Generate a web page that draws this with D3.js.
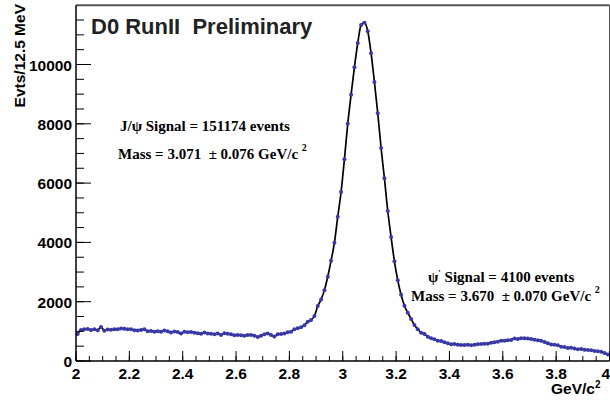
<!DOCTYPE html>
<html>
<head>
<meta charset="utf-8">
<script src="https://cdn.jsdelivr.net/npm/d3@7"></script>
<style>
html,body{margin:0;padding:0;background:#fff;}
svg{display:block;}
text{white-space:pre;}
</style>
</head>
<body>
<svg id="chart" width="610" height="403"></svg>
<script>
// ---- data ----
const binLow = 2.0;
const binWidth = 0.0125;
const counts = [
 910,1045,1068,1079,1045,1068,1040,1150,1023,1060,
 1050,1070,1068,1100,1090,1075,1070,1035,1030,1045,
 1075,1000,1010,990,1005,985,1030,1000,960,995,
 980,930,985,970,975,955,940,920,965,930,
 920,900,930,880,935,915,900,870,880,870,
 850,877,877,853,810,853,901,931,877,830,
 901,911,931,968,988,1069,1103,1137,1204,1325,
 1383,1518,1855,2070,2390,2843,3383,3990,4867,5700,
 6803,8003,8981,9906,10725,11332,11410,11120,10378,9410,
 8354,7184,6160,5059,4182,3362,2721,2236,1865,1629,
 1420,1214,1068,954,911,820,765,732,685,675,
 631,597,563,573,551,540,540,551,528,551,
 563,573,585,585,618,631,651,685,685,697,
 708,760,745,770,765,755,740,720,700,680,
 640,600,560,545,530,480,470,440,450,420,
 400,405,380,370,360,340,330,310,270,220
];
const xTicks = [2, 2.2, 2.4, 2.6, 2.8, 3, 3.2, 3.4, 3.6, 3.8, 4];
const xTickLabels = ["2","2.2","2.4","2.6","2.8","3","3.2","3.4","3.6","3.8","4"];
const yTicks = [0, 2000, 4000, 6000, 8000, 10000];
const yTickLabels = ["0","2000","4000","6000","8000","10000"];
const title = "D0 RunII  Preliminary";
const yTitle = "Evts/12.5 MeV";
const xTitle = "GeV/c";

const points = counts.map((c, i) => ({x: binLow + (i + 0.5) * binWidth, y: c}));

// ---- layout ----
const svg = d3.select("#chart");
const L = 76, R = 609.5, T = 5.2, B = 361;
const x = d3.scaleLinear().domain([2, 4]).range([L, R]);
const y = d3.scaleLinear().domain([0, 12000]).range([B, T]);
const sans = "Liberation Sans, Arial, sans-serif";

// frame top / right
svg.append("line").attr("x1", L).attr("x2", R).attr("y1", T).attr("y2", T)
  .attr("stroke", "#555").attr("stroke-width", 2);
svg.append("line").attr("x1", R).attr("x2", R).attr("y1", T).attr("y2", B)
  .attr("stroke", "#555").attr("stroke-width", 1);

// fit / connecting line
const line = d3.line().x(d => x(d.x)).y(d => y(d.y)).curve(d3.curveMonotoneX);
svg.append("path").datum(points).attr("d", line)
  .attr("fill", "none").attr("stroke", "#000").attr("stroke-width", 1.7);

// markers
svg.append("g").selectAll("circle").data(points).join("circle")
  .attr("cx", d => x(d.x)).attr("cy", d => y(d.y)).attr("r", 2)
  .attr("fill", "#3838a8");

// x axis
const xMinor = d3.range(2, 4.0001, 0.05);
svg.append("g").selectAll("line").data(xMinor).join("line")
  .attr("x1", d => x(d)).attr("x2", d => x(d))
  .attr("y1", B).attr("y2", B - 5).attr("stroke", "#000").attr("stroke-width", 1);
svg.append("g").selectAll("line").data(xTicks).join("line")
  .attr("x1", d => x(d)).attr("x2", d => x(d))
  .attr("y1", B).attr("y2", B - 10).attr("stroke", "#000").attr("stroke-width", 1);
svg.append("line").attr("x1", L).attr("x2", R).attr("y1", B).attr("y2", B)
  .attr("stroke", "#000").attr("stroke-width", 1.5);
svg.append("g").selectAll("text").data(xTicks).join("text")
  .attr("x", (d, i) => i === xTicks.length - 1 ? 610 : x(d)).attr("y", 378.5)
  .attr("text-anchor", (d, i) => i === xTicks.length - 1 ? "end" : "middle")
  .attr("font-family", sans).attr("font-weight", "bold")
  .attr("font-size", 15.5).text((d, i) => xTickLabels[i]);

// y axis
const yMinor = d3.range(0, 12000, 500);
svg.append("g").selectAll("line").data(yMinor).join("line")
  .attr("x1", L).attr("x2", L + 8)
  .attr("y1", d => y(d)).attr("y2", d => y(d)).attr("stroke", "#000").attr("stroke-width", 1);
svg.append("g").selectAll("line").data(yTicks).join("line")
  .attr("x1", L).attr("x2", L + 15)
  .attr("y1", d => y(d)).attr("y2", d => y(d)).attr("stroke", "#000").attr("stroke-width", 1);
svg.append("line").attr("x1", L).attr("x2", L).attr("y1", T).attr("y2", B)
  .attr("stroke", "#000").attr("stroke-width", 1.5);
svg.append("g").selectAll("text").data(yTicks).join("text")
  .attr("x", 72).attr("y", d => y(d) + 6)
  .attr("text-anchor", "end")
  .attr("font-family", sans).attr("font-weight", "bold")
  .attr("font-size", 15.5).text((d, i) => yTickLabels[i]);

// axis titles
svg.append("text").attr("transform", "translate(24.5,4) rotate(-90)")
  .attr("text-anchor", "end")
  .attr("font-family", sans).attr("font-weight", "bold")
  .attr("font-size", 15.5).text(yTitle);
const xt = svg.append("text").attr("x", 600.5).attr("y", 394).attr("text-anchor", "end")
  .attr("font-family", sans).attr("font-weight", "bold")
  .attr("font-size", 15.5);
xt.append("tspan").text(xTitle);
xt.append("tspan").attr("dy", -6).attr("font-size", 10).text("2");

// title
svg.append("text").attr("x", 91).attr("y", 33.5)
  .attr("font-family", sans).attr("font-weight", "bold")
  .attr("font-size", 22).attr("fill", "#222").text(title);

// annotations
const serif = "Liberation Serif, Times New Roman, serif";
function ann(xp, yp, parts) {
  const t = svg.append("text").attr("x", xp).attr("y", yp)
    .attr("font-family", serif).attr("font-weight", "bold").attr("font-size", 15);
  parts.forEach(p => {
    const s = t.append("tspan").text(p.t);
    if (p.dy) s.attr("dy", p.dy);
    if (p.fs) s.attr("font-size", p.fs);
  });
}
ann(120, 131, [{t: "J/ψ Signal = 151174 events"}]);
ann(118, 159, [{t: "Mass = 3.071  ± 0.076 GeV/c "}, {t: "2", dy: -8, fs: 10}]);
ann(428, 282, [{t: "ψ"}, {t: "'", dy: -6, fs: 9}, {t: " Signal = 4100 events", dy: 6}]);
ann(411, 300.7, [{t: "Mass = 3.670  ± 0.070 GeV/c "}, {t: "2", dy: -8, fs: 10}]);
</script>
</body>
</html>
